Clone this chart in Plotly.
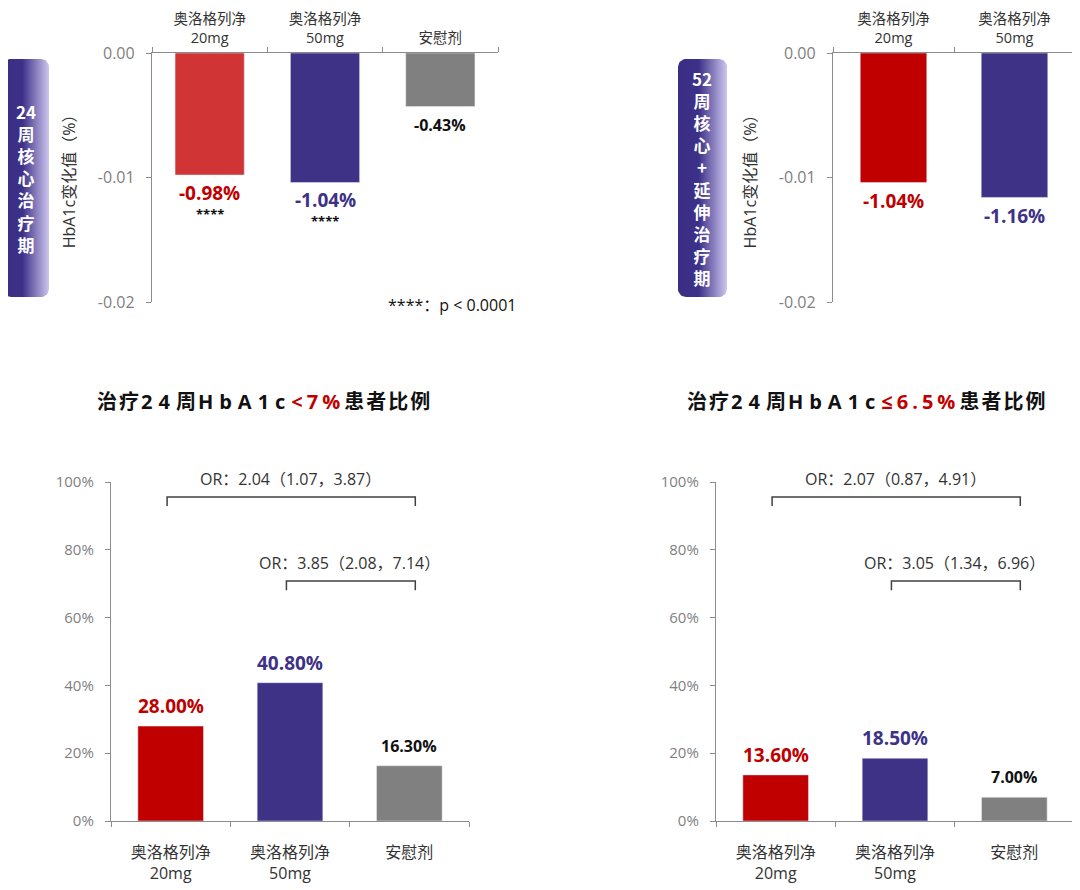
import numpy as np
import plotly.graph_objects as go

W, H = 1080, 890
OFF = 8  # page body margin in the browser

# ---------------- data ----------------
cats3_top = ["奥洛格列净<br>20mg", "奥洛格列净<br>50mg", "安慰剂"]
cats2_top = ["奥洛格列净<br>20mg", "奥洛格列净<br>50mg"]
cats3_bot = ["奥洛格列净<br>20mg", "奥洛格列净<br>50mg", "安慰剂"]

hba1c_24w = [-0.98, -1.04, -0.43]          # % change, 24 weeks
stars_24w = ["****", "****", ""]
hba1c_52w = [-1.04, -1.16]                 # % change, 52 weeks

lt7_pct = [28.00, 40.80, 16.30]            # % patients HbA1c < 7%
le65_pct = [13.60, 18.50, 7.00]            # % patients HbA1c <= 6.5%

top_yticks = [0.0, -0.01, -0.02]
top_yticktext = ["0.00", "-0.01", "-0.02"]
bot_yticks = [0, 20, 40, 60, 80, 100]
bot_yticktext = [f"{v}%" for v in bot_yticks]

or_left = [(0, 2, "OR：2.04（1.07，3.87）"), (1, 2, "OR：3.85（2.08，7.14）")]
or_right = [(0, 2, "OR：2.07（0.87，4.91）"), (1, 2, "OR：3.05（1.34，6.96）")]

RED_L = "#d03434"
RED = "#c00000"
BLUE = "#3d3286"
GRAY = "#808080"
AX = "#8c8c8c"
TXT = "#333333"
TICKGRAY = "#7f7f7f"

FONT = "Open Sans, Noto Sans CJK SC"
CJK = "Noto Sans CJK SC"

def px_x(p):
    return (p - OFF) / W

def px_y(p):
    return 1 - (p - OFF) / H

fig = go.Figure()

fig.add_trace(go.Bar(x=cats3_top, y=[v / 100 for v in hba1c_24w],
                     marker=dict(color=[RED_L, BLUE, GRAY]), width=0.6,
                     xaxis="x", yaxis="y", hoverinfo="skip"))
fig.add_trace(go.Bar(x=cats2_top, y=[v / 100 for v in hba1c_52w],
                     marker=dict(color=[RED, BLUE]), width=0.55,
                     xaxis="x2", yaxis="y2", hoverinfo="skip"))
fig.add_trace(go.Bar(x=cats3_bot, y=lt7_pct,
                     marker=dict(color=[RED, BLUE, GRAY]), width=0.55,
                     xaxis="x3", yaxis="y3", hoverinfo="skip"))
fig.add_trace(go.Bar(x=cats3_bot, y=le65_pct,
                     marker=dict(color=[RED, BLUE, GRAY]), width=0.55,
                     xaxis="x4", yaxis="y4", hoverinfo="skip"))

# ---------------- gradient side labels (overlay axis in pixel units) ----------------
def rounded_rect(x0, y0, x1, y1, r):
    xs, ys = [], []
    corners = [(x1 - r, y0 + r, -90, 0), (x1 - r, y1 - r, 0, 90),
               (x0 + r, y1 - r, 90, 180), (x0 + r, y0 + r, 180, 270)]
    for cx, cy, a0, a1 in corners:
        t = np.radians(np.linspace(a0, a1, 10))
        xs += list(cx + r * np.cos(t))
        ys += list(cy + r * np.sin(t))
    xs.append(xs[0]); ys.append(ys[0])
    return xs, ys

grad = [[0, "#3a2d84"], [0.42, "#3c3088"], [1, "#cdc6ee"]]
for (bx0, bx1) in [(3, 49), (678, 727)]:
    xs, ys = rounded_rect(bx0, 59, bx1, 297, 8)
    fig.add_trace(go.Scatter(x=xs, y=ys, mode="lines", fill="toself",
                             line=dict(width=0),
                             fillgradient=dict(type="horizontal", colorscale=grad),
                             xaxis="x5", yaxis="y5", hoverinfo="skip"))

# ---------------- axes ----------------
def xcat(domain, side, anchor, standoff, size):
    return dict(domain=domain, side=side, anchor=anchor, type="category",
                automargin=False,
                showline=True, linecolor=AX, linewidth=1.3,
                ticks="outside", tickson="boundaries", ticklen=5, tickcolor=AX,
                ticklabelstandoff=standoff,
                tickfont=dict(size=size, color=TXT, family=FONT),
                showgrid=False, zeroline=False, fixedrange=True)

def yax(domain, anchor, rng, tickvals, ticktext, size):
    return dict(domain=domain, anchor=anchor, range=rng, tickvals=tickvals,
                ticktext=ticktext, automargin=False,
                showline=True, linecolor=AX, linewidth=1.3,
                ticks="outside", ticklen=5, tickcolor=AX,
                ticklabelstandoff=8,
                tickfont=dict(size=size, color=TICKGRAY, family=FONT),
                showgrid=False, zeroline=False, fixedrange=True)

top_dom = [px_y(302), px_y(53)]
bot_dom = [px_y(821), px_y(482)]

layout = dict(
    width=W, height=H, margin=dict(l=0, r=0, t=0, b=0, pad=0, autoexpand=False),
    paper_bgcolor="white", plot_bgcolor="rgba(0,0,0,0)",
    showlegend=False,
    font=dict(family=FONT, color=TXT),
    xaxis=xcat([px_x(152), px_x(498)], "top", "y", 3, 14.5),
    yaxis=yax(top_dom, "x", [-0.02, 0], top_yticks, top_yticktext, 16),
    xaxis2=xcat([px_x(833), px_x(1075)], "top", "y2", 3, 14.5),
    yaxis2=yax(top_dom, "x2", [-0.02, 0], top_yticks, top_yticktext, 16),
    xaxis3=xcat([px_x(111), px_x(469)], "bottom", "y3", 17, 16),
    yaxis3=yax(bot_dom, "x3", [0, 100], bot_yticks, bot_yticktext, 15),
    xaxis4=xcat([px_x(716), px_x(1074)], "bottom", "y4", 17, 16),
    yaxis4=yax(bot_dom, "x4", [0, 100], bot_yticks, bot_yticktext, 15),
    xaxis5=dict(domain=[0, 1], range=[OFF, W + OFF], visible=False, fixedrange=True,
                anchor="y5", automargin=False),
    yaxis5=dict(domain=[0, 1], range=[H + OFF, OFF], visible=False, fixedrange=True,
                anchor="x5", automargin=False),
)
for k in ["yaxis", "yaxis2"]:
    layout[k]["title"] = dict(text="HbA1c变化值（%）", standoff=18,
                              font=dict(size=16, color=TXT, family=FONT))
fig.update_layout(**layout)

ann = []
col_tl = [RED, BLUE, "#111111"]
size_tl = [19, 19, 16]
for i, v in enumerate(hba1c_24w):
    ann.append(dict(x=cats3_top[i], y=v / 100, xref="x", yref="y", yshift=-18,
                    xanchor="center", yanchor="middle",
                    text=f"<b>{v:.2f}%</b>", showarrow=False,
                    font=dict(size=size_tl[i], color=col_tl[i], family=FONT)))
    if stars_24w[i]:
        ann.append(dict(x=cats3_top[i], y=v / 100, xref="x", yref="y", yshift=-39,
                        xanchor="center", yanchor="middle",
                        text=f"<b>{stars_24w[i]}</b>", showarrow=False,
                        font=dict(size=13, color="#111111", family=FONT)))
for i, v in enumerate(hba1c_52w):
    ann.append(dict(x=cats2_top[i], y=v / 100, xref="x2", yref="y2", yshift=-19,
                    xanchor="center", yanchor="middle",
                    text=f"<b>{v:.2f}%</b>", showarrow=False,
                    font=dict(size=19, color=[RED, BLUE][i], family=FONT)))
for xr, yr, vals in [("x3", "y3", lt7_pct), ("x4", "y4", le65_pct)]:
    for i, v in enumerate(vals):
        ann.append(dict(x=cats3_bot[i], y=v, xref=xr, yref=yr, yshift=20,
                        xanchor="center", yanchor="middle",
                        text=f"<b>{v:.2f}%</b>", showarrow=False,
                        font=dict(size=[19, 19, 16][i],
                                  color=[RED, BLUE, "#111111"][i], family=FONT)))

ann.append(dict(x=px_x(518), y=px_y(305), xref="paper", yref="paper",
                xanchor="right", yanchor="middle", showarrow=False,
                text="****：p < 0.0001", font=dict(size=16, color="#111111", family=FONT)))

def title_text(cond):
    sp = "letter-spacing:6px"
    return ("<b><span style='letter-spacing:2px'>治疗</span>"
            f"<span style='{sp}'>24</span>"
            "<span style='letter-spacing:2px'>周</span>"
            f"<span style='{sp}'>HbA1c</span>"
            f"<span style='color:{RED};letter-spacing:4px'>{cond}</span>"
            "<span style='letter-spacing:2px'>患者比例</span></b>")

for cx, cond in [(264, "<7%"), (867, "≤6.5%")]:
    ann.append(dict(x=px_x(cx), y=px_y(401), xref="paper", yref="paper",
                    xanchor="center", yanchor="middle",
                    showarrow=False, text=title_text(cond),
                    font=dict(size=20, color="#111111", family=FONT)))

side_24 = ["24", "周", "核", "心", "治", "疗", "期"]
side_52 = ["52", "周", "核", "心", "+", "延", "伸", "治", "疗", "期"]
for cx, lines in [(26, side_24), (702, side_52)]:
    ann.append(dict(x=px_x(cx), y=px_y(178), xref="paper", yref="paper",
                    xanchor="center", yanchor="middle", showarrow=False,
                    text="<b>" + "<br>".join(lines) + "</b>",
                    font=dict(size=17, color="white", family=CJK)))

shapes = []
levels = [(95.6, 92.9), (70.8, 68.1)]
for xr, yr, brs in [("x3", "y3", or_left), ("x4", "y4", or_right)]:
    for (a, b, txt), (ytop, ybot) in zip(brs, levels):
        x0, x1 = a - 0.03, b + 0.05
        shapes.append(dict(type="path", xref=xr, yref=yr,
                           path=f"M {x0} {ybot} L {x0} {ytop} L {x1} {ytop} L {x1} {ybot}",
                           line=dict(color="#404040", width=1.5)))
        ann.append(dict(x=(a + b) / 2, y=ytop, xref=xr, yref=yr, yshift=18,
                        xanchor="center", yanchor="middle",
                        showarrow=False, text=txt,
                        font=dict(size=16, color=TXT, family=FONT)))

fig.update_layout(annotations=ann, shapes=shapes)
fig.write_html("out.html")
